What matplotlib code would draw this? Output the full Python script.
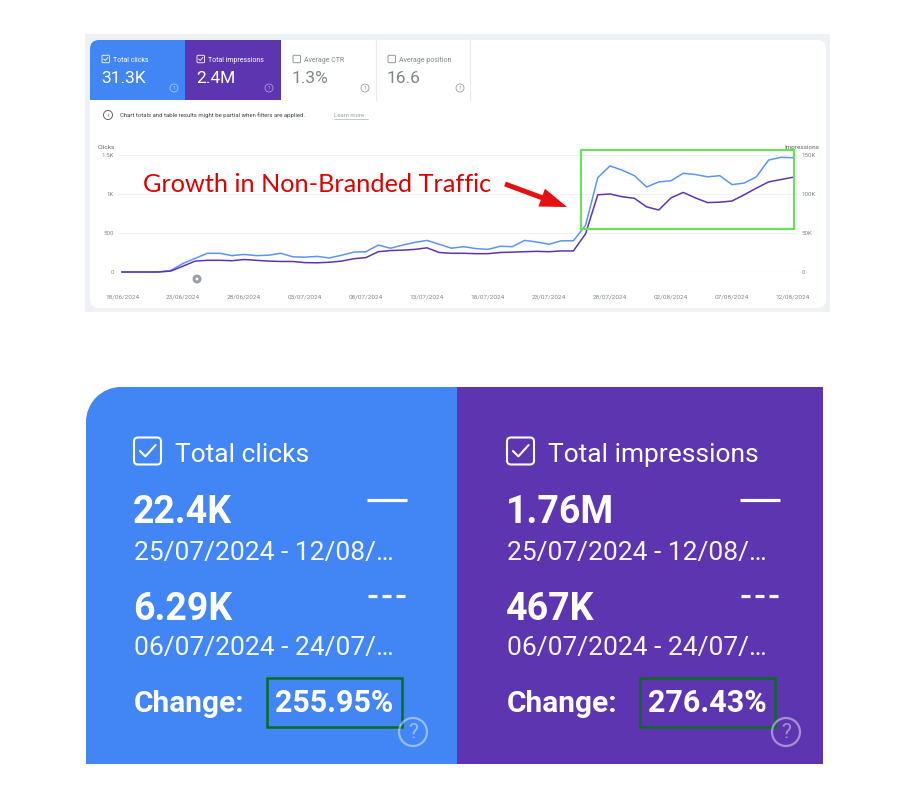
import matplotlib
matplotlib.use('Agg')
import matplotlib.pyplot as plt
import matplotlib.patches as mpatches
import matplotlib.dates as mdates
import pandas as pd

plt.rcParams['font.family'] = ['Roboto', 'DejaVu Sans']

# daily data, 18/06/2024 - 12/08/2024
dates = pd.date_range('2024-06-18', '2024-08-12', freq='D')
clicks = [0, 0, 0, 2, 20, 110, 175, 240, 240, 210, 225, 210, 215, 240, 195,
          190, 200, 180, 215, 255, 260, 345, 305, 345, 380, 405, 355, 305, 325,
          300, 290, 330, 325, 405, 385, 355, 400, 400, 600, 1210, 1360, 1305,
          1235, 1090, 1155, 1170, 1265, 1250, 1220, 1235, 1120, 1140, 1220,
          1435, 1470, 1465]
impressions_k = [0, 0, 0, 0, 1.2, 7.5, 14, 15, 15, 14.5, 16, 15, 14, 13.5, 13.5,
                 12, 11.8, 12.5, 14, 17, 18.5, 26, 27.5, 28, 29, 31, 25, 24, 24,
                 23.5, 23.5, 25, 25.5, 26, 26.5, 26, 27, 27, 49, 99, 100, 96.5,
                 94.5, 83.5, 79.5, 95, 102, 95, 89, 89.5, 91, 99, 107.5, 115.5,
                 118.5, 121.5]

tab_names = ['Total clicks', 'Total impressions', 'Average CTR', 'Average position']
tab_values = ['31.3K', '2.4M', '1.3%', '16.6']
clicks_ticks = [0, 500, 1000, 1500]
clicks_labels = ['0', '500', '1K', '1.5K']
impr_ticks = [0, 50, 100, 150]
impr_labels = ['0', '50K', '100K', '150K']

card_titles = ['Total clicks', 'Total impressions']
card_now = ['22.4K', '1.76M']
card_prev = ['6.29K', '467K']
range_now = '25/07/2024 - 12/08/…'
range_prev = '06/07/2024 - 24/07/…'
card_change = ['255.95%', '276.43%']

BLUE = '#4285f4'
PURPLE = '#5e35b1'
LINE_BLUE = '#5b96f2'
GREY_TXT = '#80868b'

W, H = 915, 811
fig = plt.figure(figsize=(W / 100, H / 100), dpi=100)
fig.patch.set_facecolor('white')

# pixel-coordinate canvas for the screenshot chrome
bg = fig.add_axes([0, 0, 1, 1])
bg.set_xlim(0, W)
bg.set_ylim(H, 0)
bg.axis('off')


def checkbox(ax, x, y, s, color, lw, checked=True):
    ax.add_patch(mpatches.FancyBboxPatch((x, y - s / 2), s, s,
                                         boxstyle='round,pad=0,rounding_size=%s' % (s * 0.15),
                                         fc='none', ec=color, lw=lw))
    if checked:
        ax.plot([x + 0.22 * s, x + 0.42 * s, x + 0.8 * s],
                [y + 0.0 * s, y + 0.2 * s, y - 0.22 * s],
                color=color, lw=lw, solid_capstyle='round', solid_joinstyle='round')


def qmark(ax, x, y, r, color, lw, fs, alpha=1.0):
    ax.add_patch(mpatches.Circle((x, y), r, fc='none', ec=color, lw=lw, alpha=alpha))
    ax.text(x, y + r * 0.05, '?', ha='center', va='center', fontsize=fs,
            color=color, alpha=alpha)


# ---- top card (Search Console screenshot) ----
bg.add_patch(mpatches.Rectangle((85, 34), 745, 278, fc='#eef1f5', ec='none'))
bg.add_patch(mpatches.FancyBboxPatch((90, 40), 736, 268,
                                     boxstyle='round,pad=0,rounding_size=9',
                                     fc='white', ec='none'))
# tabs
bg.add_patch(mpatches.FancyBboxPatch((90, 40), 95, 60,
                                     boxstyle='round,pad=0,rounding_size=9',
                                     fc=BLUE, ec='none'))
bg.add_patch(mpatches.Rectangle((100, 40), 85, 60, fc=BLUE, ec='none'))
bg.add_patch(mpatches.Rectangle((90, 52), 95, 48, fc=BLUE, ec='none'))
bg.add_patch(mpatches.Rectangle((185, 40), 96, 60, fc=PURPLE, ec='none'))
for sx in [376, 470]:
    bg.plot([sx, sx], [40, 100], color='#e8eaed', lw=0.8)

tab_x = [90, 185, 281, 376]
for i, x0 in enumerate(tab_x):
    col = 'white' if i < 2 else '#80868b'
    checkbox(bg, x0 + 12, 59, 7.5, col, 0.6, checked=(i < 2))
    bg.text(x0 + 23, 61.5, tab_names[i], fontsize=5, color=col, va='baseline')
    bg.text(x0 + 11, 83, tab_values[i], fontsize=12.5, color=col, va='baseline')
    qmark(bg, x0 + 84, 88, 4, col, 0.5, 3.5, alpha=0.6 if i < 2 else 1.0)

# info line
bg.add_patch(mpatches.Circle((108, 115), 4.5, fc='none', ec='#5f6368', lw=0.7))
bg.text(108, 115.3, 'i', ha='center', va='center', fontsize=4.5, color='#5f6368')
bg.text(120, 117, 'Chart totals and table results might be partial when filters are applied.',
        fontsize=4.3, color='#3c4043', va='baseline')
bg.text(334, 117, 'Learn more', fontsize=4.3, color='#9aa0a6', va='baseline')
bg.plot([334, 368], [118.8, 118.8], color='#9aa0a6', lw=0.4)

# annotation marker under the x axis
bg.add_patch(mpatches.Circle((197, 279), 4.5, fc='#9aa0a6', ec='none'))
bg.add_patch(mpatches.Circle((197, 279), 1.4, fc='white', ec='none'))

# ---- line chart ----
x_left, x_right, y_top, y_bot = 118, 797, 155, 272
ax = fig.add_axes([x_left / W, 1 - y_bot / H, (x_right - x_left) / W, (y_bot - y_top) / H])
ax.patch.set_alpha(0)
ax2 = ax.twinx()

ax.plot(dates, clicks, color=LINE_BLUE, lw=1.1, clip_on=False, zorder=3)
ax2.plot(dates, impressions_k, color=PURPLE, lw=1.1, clip_on=False, zorder=3)

x0 = mdates.date2num(dates[0])
ax.set_xlim(x0 - 0.33, x0 + 55.33)
ax.set_ylim(0, 1500)
ax2.set_ylim(0, 150)

ax.set_yticks(clicks_ticks)
ax.set_yticklabels(clicks_labels)
ax2.set_yticks(impr_ticks)
ax2.set_yticklabels(impr_labels)
ax.set_xticks(dates[::5])
ax.set_xticklabels([d.strftime('%d/%m/%Y') for d in dates[::5]])

for a in (ax, ax2):
    for sp in a.spines.values():
        sp.set_visible(False)
ax.tick_params(axis='y', length=0, pad=3, labelsize=4.4, labelcolor=GREY_TXT)
ax2.tick_params(axis='y', length=0, pad=3, labelsize=4.4, labelcolor=GREY_TXT)
ax.tick_params(axis='x', length=0, pad=16, labelsize=4.6, labelcolor=GREY_TXT)
for t in clicks_ticks[1:]:
    ax.axhline(t, color='#eceff1', lw=0.6, zorder=1)
ax.axhline(0, color='#c4c7cb', lw=0.8, zorder=1)

bg.text(98, 149, 'Clicks', fontsize=4.6, color='#5f6368', va='baseline')
bg.text(819, 149, 'Impressions', fontsize=4.6, color='#5f6368', va='baseline', ha='right')

# ---- overlay: annotation ----
ov = fig.add_axes([0, 0, 1, 1])
ov.set_xlim(0, W)
ov.set_ylim(H, 0)
ov.axis('off')
ov.patch.set_alpha(0)
ov.text(143, 192, 'Growth in Non-Branded Traffic', fontsize=18.2, color='#e00000',
        family=['Lato', 'DejaVu Sans'], va='baseline')
ov.add_patch(mpatches.FancyArrow(505, 184, 62, 23, width=5, head_width=19,
                                 head_length=27, length_includes_head=True,
                                 fc='#e51010', ec='none'))
ov.add_patch(mpatches.Rectangle((581, 149.5), 213, 79.5, fc='none', ec='#6be05f', lw=1.6))

# ---- bottom comparison cards ----
bg.add_patch(mpatches.Rectangle((121, 387), 336, 377, fc=BLUE, ec='none'))
bg.add_patch(mpatches.Rectangle((86, 421), 36, 343, fc=BLUE, ec='none'))
bg.add_patch(mpatches.Circle((121, 422), 35, fc=BLUE, ec='none'))
bg.add_patch(mpatches.Rectangle((457, 387), 366, 377, fc=PURPLE, ec='none'))

card_x = [134, 507]
for i, cx in enumerate(card_x):
    checkbox(bg, cx, 451, 27, 'white', 1.5)
    bg.text(cx + 41, 462, card_titles[i], fontsize=19, color='white', va='baseline')
    bg.text(cx - 1, 523, card_now[i], fontsize=27, fontweight='bold', color='white', va='baseline')
    bg.plot([cx + 233, cx + 273], [500, 500], color='white', lw=2.3, solid_capstyle='butt')
    bg.text(cx, 560, range_now, fontsize=19, color='white', va='baseline', alpha=0.95)
    bg.text(cx - 1, 620, card_prev[i], fontsize=27, fontweight='bold', color='white', va='baseline')
    for k in range(3):
        bg.plot([cx + 234 + k * 14, cx + 243 + k * 14], [596, 596], color='white',
                lw=2.3, solid_capstyle='butt')
    bg.text(cx, 655, range_prev, fontsize=19, color='white', va='baseline', alpha=0.95)
    bg.text(cx, 712, 'Change:', fontsize=21.5, fontweight='bold', color='white', va='baseline')
    bg.add_patch(mpatches.Rectangle((cx + 133, 678), 135, 49, fc='none', ec='#0b6b24', lw=1.8))
    bg.text(cx + 141, 712, card_change[i], fontsize=22, fontweight='bold', color='white',
            va='baseline')
    qmark(bg, cx + 279, 732, 14, 'white', 1.6, 15, alpha=0.45)

fig.savefig('out.png', dpi=100)
